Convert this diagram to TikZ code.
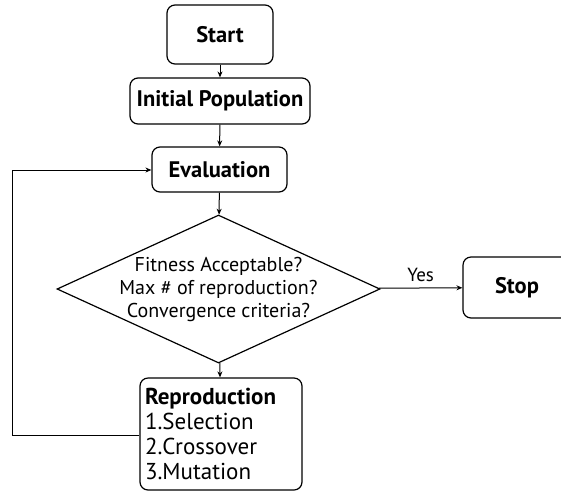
\documentclass[tikz,border=0pt]{standalone}
\usepackage{fontspec}
\setmainfont{PT Sans}
\usetikzlibrary{shapes.geometric,arrows.meta}
\begin{document}
\begin{tikzpicture}[x=1pt,y=-1pt,
  box/.style={draw,line width=1.2pt,rounded corners=8pt,inner sep=0pt,font=\fontsize{22.5}{25}\selectfont\bfseries},
  conn/.style={line width=1pt,-{Stealth[length=6pt,width=5pt]}},
  link/.style={line width=1pt}]
\useasboundingbox (0,0) rectangle (561,491);
\begin{scope}
\clip (0,0) rectangle (561,491);
\node[box,minimum width=106pt,minimum height=59pt] (start) at (220,34.5) {Start};
\node[box,minimum width=180pt,minimum height=46pt] (init) at (220,101) {Initial Population};
\node[box,minimum width=135pt,minimum height=45pt] (eval) at (219.5,169.5) {Evaluation};
\node[draw,line width=1.2pt,diamond,minimum width=323pt,minimum height=148pt,inner sep=0pt] (dec) at (218.5,289) {};
\node[align=center,inner sep=0pt,font=\fontsize{20}{23}\selectfont] (dectext) at (dec.center)
  {Fitness Acceptable?\\Max \# of reproduction?\\Convergence criteria?};
\node[box,minimum width=108pt,minimum height=61pt] (stop) at (517,287.5) {Stop};
\node[box,minimum width=162pt,minimum height=112pt,inner xsep=5pt,text width=152pt,align=left,font=\fontsize{23}{25}\selectfont] (rep) at (221,434)
  {\textbf{Reproduction}\\1.Selection\\2.Crossover\\3.Mutation};
\end{scope}
\coordinate (lb) at (12,435);
\coordinate (lt) at (12,170);
\draw[conn] (start) -- (init);
\draw[conn] (init) -- (eval);
\draw[conn] (eval) -- (dec);
\draw[conn] (dec) -- (rep);
\draw[conn] (dec) -- node[above=2pt,font=\fontsize{19}{20}\selectfont] (yes) {Yes} (stop);
\draw[conn] (rep.west |- lb) -- (lb) -- (lt) -- (eval.west |- lt);
\end{tikzpicture}
\end{document}
